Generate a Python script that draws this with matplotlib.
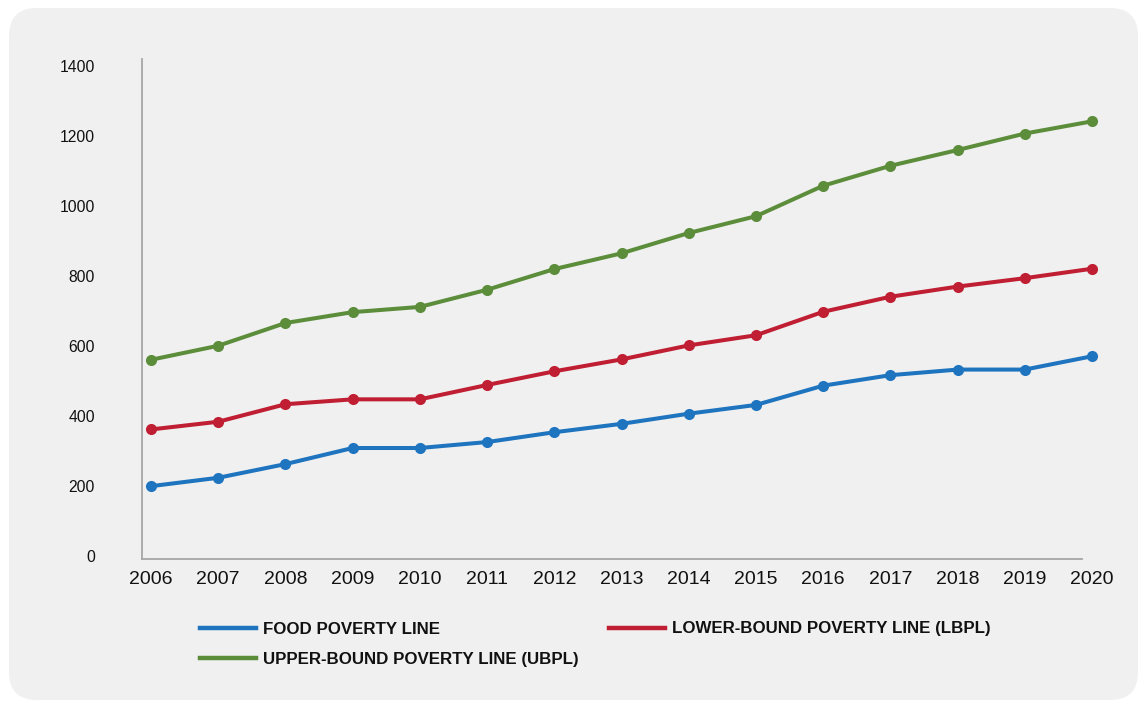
import matplotlib
matplotlib.use("Agg")
import matplotlib.pyplot as plt
from matplotlib.patches import FancyBboxPatch
from matplotlib.lines import Line2D

plt.rcParams['font.family'] = ['Liberation Sans', 'DejaVu Sans']

years = [2006, 2007, 2008, 2009, 2010, 2011, 2012, 2013, 2014, 2015, 2016, 2017, 2018, 2019, 2020]
food = [200, 224, 263, 309, 309, 326, 354, 378, 407, 432, 487, 517, 533, 533, 571]
lbpl = [362, 384, 434, 448, 448, 489, 528, 562, 602, 631, 698, 741, 770, 794, 821]
ubpl = [561, 601, 666, 697, 712, 761, 820, 865, 923, 971, 1058, 1115, 1160, 1207, 1242]
yticks = [0, 200, 400, 600, 800, 1000, 1200, 1400]

labels = ["FOOD POVERTY LINE", "LOWER-BOUND POVERTY LINE (LBPL)", "UPPER-BOUND POVERTY LINE (UBPL)"]
colors = ["#1f74bf", "#c01e32", "#5c8d3b"]

W, H = 1142, 702
fig = plt.figure(figsize=(W / 100, H / 100), dpi=100)
fig.patch.set_facecolor("white")

panel = FancyBboxPatch((9, 2), 1129, 692, boxstyle="round,pad=0,rounding_size=28",
                       transform=None, facecolor="#f0f0f0", edgecolor="none", zorder=-10)
fig.patches.append(panel)

step = (1092 - 151) / 14.0
x_left = 2006 - (151 - 142) / step
x_spine_right = 2006 + (1082 - 151) / step
x_right = 2020.3
ax_left = 142 / W
ax_width = (151 + (x_right - 2006) * step - 142) / W
ax_bottom = 1 - 559 / H
ax_top = 1 - 59 / H
ax = fig.add_axes([ax_left, ax_bottom, ax_width, ax_top - ax_bottom])
ax.set_facecolor("none")
ax.set_zorder(5)

series = [food, lbpl, ubpl]
handles = []
for vals, c, lab in zip(series, colors, labels):
    ax.plot(years, vals, color=c, lw=2.9, marker='o', markersize=8, markeredgewidth=0,
            clip_on=False, zorder=3)
    handles.append(Line2D([], [], color=c, lw=3.2))

ax.set_xlim(x_left, x_right)
ax.set_ylim(-8, 1420)
ax.set_xticks(years)
ax.set_xticklabels([str(y) for y in years])
ax.set_yticks(yticks)
ax.set_yticklabels([str(v) for v in yticks])

for s in ["top", "right"]:
    ax.spines[s].set_visible(False)
for s in ["left", "bottom"]:
    ax.spines[s].set_color("#a6a6a6")
    ax.spines[s].set_linewidth(1.3)
ax.spines["bottom"].set_bounds(x_left, x_spine_right)

ax.tick_params(axis='x', length=0, pad=9, labelsize=14, labelcolor="#111111")
ax.tick_params(axis='y', length=0, pad=34, labelsize=11.3, labelcolor="#111111")

order = [0, 2, 1]
leg = ax.legend([handles[i] for i in order], [labels[i] for i in order],
                loc='upper left', bbox_to_anchor=(200 / W, 1 - 621.5 / H),
                bbox_transform=fig.transFigure, ncol=2, frameon=False,
                borderaxespad=0, borderpad=0, handlelength=3.3, handletextpad=0.4,
                columnspacing=1.8, labelspacing=0.9,
                prop={'family': 'Liberation Sans', 'weight': 'bold', 'size': 12.2})
for t in leg.get_texts():
    t.set_color("#111111")

fig.savefig("out.png", dpi=100, facecolor=fig.get_facecolor())
